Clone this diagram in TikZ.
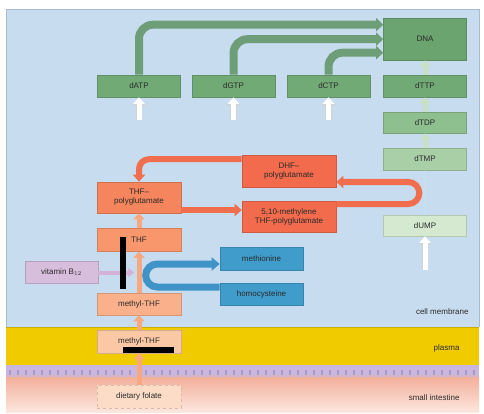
\documentclass[tikz,border=0pt]{standalone}
\usepackage{fontspec}
\setmainfont{Liberation Sans}
\usetikzlibrary{arrows.meta}
\definecolor{panel}{HTML}{C8DCF0}
\definecolor{panelline}{HTML}{A6BAD0}
\definecolor{plasma}{HTML}{EFCB00}
\definecolor{brush}{HTML}{C9B7E0}
\definecolor{brushdark}{HTML}{A79AC8}
\definecolor{gutA}{HTML}{F3AE98}
\definecolor{gutB}{HTML}{FCE6DE}
\definecolor{gA}{HTML}{6BA46F}
\definecolor{gB}{HTML}{72AA76}
\definecolor{gC}{HTML}{8EBF8E}
\definecolor{gD}{HTML}{A9CFA6}
\definecolor{gE}{HTML}{D5E9D0}
\definecolor{gline}{HTML}{6E9E78}
\definecolor{gpale}{HTML}{C8E0C4}
\definecolor{oA}{HTML}{F26B4C}
\definecolor{oB}{HTML}{F5855C}
\definecolor{oC}{HTML}{F8966C}
\definecolor{oD}{HTML}{FAB08A}
\definecolor{oE}{HTML}{FBC8A6}
\definecolor{oF}{HTML}{FCDCC6}
\definecolor{oline}{HTML}{F06D4E}
\definecolor{opale}{HTML}{F8A87E}
\definecolor{bA}{HTML}{3F9CCB}
\definecolor{bline}{HTML}{3F93C6}
\definecolor{lav}{HTML}{D8BEDD}
\definecolor{lavline}{HTML}{D4B2D8}
\definecolor{txt}{HTML}{2A2A2A}
\tikzset{
  box/.style={rectangle, draw=#1!85!black, fill=#1, line width=0.6pt,
    minimum width=83pt, minimum height=22pt, inner sep=1pt, align=center,
    text=txt, font=\fontsize{8}{9}\selectfont},
  lbl/.style={text=txt, font=\fontsize{8}{9}\selectfont, anchor=east},
  garrow/.style={gline, line width=8pt, rounded corners=14pt,
    -{Triangle[length=7pt,width=13pt]}},
  oarrow/.style={oline, line width=6pt, rounded corners=10pt,
    -{Triangle[length=7pt,width=12pt]}},
  barrow/.style={bline, line width=7pt, rounded corners=11.5pt,
    -{Triangle[length=8pt,width=13pt]}},
  parrow/.style={#1, line width=5pt, -{Triangle[length=6pt,width=11pt]}},
  wout/.style={gray!35, line width=6.2pt, -{Triangle[length=8pt,width=13.5pt]}},
  win/.style={white, line width=5pt, -{Triangle[length=6.5pt,width=11.5pt]}},
}
\begin{document}
\begin{tikzpicture}[x=1pt,y=-1pt]
\useasboundingbox (0,0) rectangle (484,414);
% background regions
\fill[panel] (6,9) rectangle (479,327);
\draw[panelline, line width=0.8pt] (6,327) -- (6,9) -- (479,9) -- (479,327);
\fill[plasma] (6,327) rectangle (479,365);
\draw[plasma!85!black, line width=0.5pt] (6,327) -- (479,327);
\shade[top color=gutA, bottom color=gutB] (6,376) rectangle (479,412);
\fill[brush] (6,365) rectangle (479,377);
\foreach \i in {0,...,58} {
  \fill[brushdark] (9+\i*8,369.5) rectangle (11+\i*8,376);
  \fill[gutA!80!brush] (8.5+\i*8,375) rectangle (11.5+\i*8,378);
}
% nodes
\node[box=gA, minimum height=42pt] (dna) at (425,39) {DNA};
\node[box=gB] (datp) at (139,86) {dATP};
\node[box=gB] (dgtp) at (233.5,86) {dGTP};
\node[box=gB] (dctp) at (328.5,86) {dCTP};
\node[box=gB] (dttp) at (425,86) {dTTP};
\node[box=gC, minimum height=21pt] (dtdp) at (425,122.5) {dTDP};
\node[box=gD] (dtmp) at (425,159) {dTMP};
\node[box=gE, minimum height=21pt] (dump) at (425,225.5) {dUMP};
\node[box=oA, minimum width=94pt, minimum height=32pt] (dhf) at (289,171.5) {DHF–\\polyglutamate};
\node[box=oA, minimum width=94pt, minimum height=31pt] (mthl) at (289,217) {5,10-methylene\\THF-polyglutamate};
\node[box=oB, minimum width=84pt, minimum height=31pt] (thfp) at (139,197.5) {THF–\\polyglutamate};
\node[box=oC, minimum width=84pt, minimum height=23pt] (thf) at (139,240) {THF};
\node[box=lav, minimum width=73pt] (b12) at (61.5,272.5) {vitamin B$_{12}$};
\node[box=bA, minimum height=23pt] (met) at (261.5,258.5) {methionine};
\node[box=bA] (hcy) at (261.5,294) {homocysteine};
\node[box=oD, minimum width=84pt] (mtc) at (139,304) {methyl-THF};
\node[box=oE, minimum width=84pt, minimum height=23pt] (mtp) at (139,341.5) {methyl-THF};
\node[box=oF, minimum width=84pt, minimum height=23pt, dashed] (fol) at (139,396.5) {dietary folate};
\node[lbl] (lcm) at (472,312) {cell membrane};
\node[lbl] (lpl) at (463,348) {plasma};
\node[lbl] (lsi) at (463,398) {small intestine};
% free-end coordinates
\coordinate (wa) at (139,120);
\coordinate (wg) at (233.5,120);
\coordinate (wc) at (328.5,120);
\coordinate (wu) at (425,270);
% green connectors to DNA
\draw[garrow] (datp.north) |- ([yshift=-7pt]dna.north west);
\draw[garrow] (dgtp.north) |- ([yshift=-21.5pt]dna.north west);
\draw[garrow] (dctp.north) |- ([yshift=-35pt]dna.north west);
% pale green steps
\draw[parrow=gpale] (dtmp.north) -- (dtdp.south);
\draw[parrow=gpale] (dtdp.north) -- (dttp.south);
\draw[parrow=gpale] (dttp.north) -- (dna.south);
% white inputs
\foreach \c/\n in {wa/datp, wg/dgtp, wc/dctp, wu/dump} {
  \draw[wout] (\c) -- (\n.south);
  \draw[win] (\c) -- (\n.south);
}
% dUMP -> dTMP
\draw[white!70!bA, line width=1.6pt, -{Triangle[length=4pt,width=5pt]}] (dump.north) -- (dtmp.south);
% orange cycle
\draw[oarrow] ([yshift=-4pt]dhf.north west) -| (thfp.north);
\draw[oarrow] ([yshift=-12.5pt]thfp.east) -- ([yshift=-12.5pt]thfp.east -| mthl.west);
\draw[oarrow, rounded corners=11pt] ([yshift=13pt]mthl.east) -- ++(83,0) -- ++(0,-22) -- ([yshift=-10.5pt]dhf.east);
% central pale orange column
\draw[parrow=opale] (thf.north) -- (thfp.south);
\draw[parrow=opale] (mtc.north) -- (thf.south);
\draw[parrow=opale] (mtp.north) -- (mtc.south);
\draw[parrow=opale] (fol.north) -- (mtp.south);
% methionine cycle
\draw[barrow] ([yshift=7pt]hcy.west) -- ++(-74,0) -- ++(0,-23) -- ([yshift=-5.5pt]met.west);
% vitamin B12
\draw[lavline, line width=4pt, -{Triangle[length=6pt,width=9pt]}] (b12.east) -- ++(36,0);
% black bars
\fill[black] (120,237) rectangle (125.5,289);
\fill[black] (123,347) rectangle (174,353);
\end{tikzpicture}
\end{document}
